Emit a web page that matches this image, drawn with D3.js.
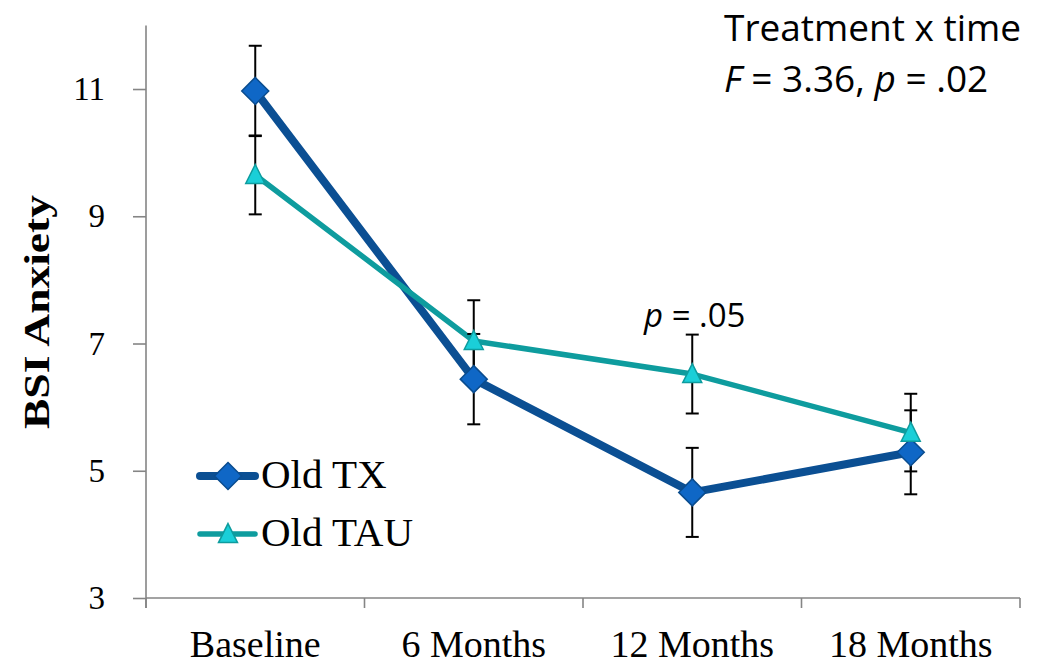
<!DOCTYPE html>
<html>
<head>
<meta charset="utf-8">
<script src="https://cdn.jsdelivr.net/npm/d3@7"></script>
<style>
  html, body { margin: 0; padding: 0; background: #fff; }
  svg { display: block; }
</style>
</head>
<body>
<svg id="chart" width="1038" height="670"></svg>
<script>
// Time points and BSI anxiety means with standard errors
const timepoints = ["Baseline", "6 Months", "12 Months", "18 Months"];
const txMeans  = [10.97, 6.44, 4.66, 5.29];
const txErrors = [0.71, 0.71, 0.70, 0.66];
const tauMeans  = [9.65, 7.04, 6.52, 5.60];
const tauErrors = [0.62, 0.64, 0.62, 0.61];
const yTicks = [3, 5, 7, 9, 11];
const seriesNames = ["Old TX", "Old TAU"];

const svg = d3.select("#chart");
const serif = "'Liberation Serif', 'DejaVu Serif', serif";
const sans = "'Open Sans', 'Liberation Sans', sans-serif";

const x = d3.scaleBand().domain(timepoints).range([146, 1020]).padding(0);
const y = d3.scaleLinear().domain([3, 12]).range([598, 25.4]);
const cx = d => x(d) + x.bandwidth() / 2;

// Y axis
const yAxis = svg.append("g").attr("transform", "translate(146,0)")
  .call(d3.axisLeft(y).tickValues(yTicks).tickSize(13).tickPadding(28).tickFormat(d3.format("d")));
yAxis.select(".domain").attr("d", `M0,${y(12)}V${y(3) + 10}`).attr("stroke", "#858585").attr("stroke-width", 1.6);
yAxis.selectAll(".tick line").attr("stroke", "#858585").attr("stroke-width", 1.6);
yAxis.selectAll(".tick text").attr("font-family", serif).attr("font-size", 33).attr("fill", "#000");

// X axis
const xAxis = svg.append("g").attr("transform", "translate(0,598)")
  .call(d3.axisBottom(x).tickSize(0));
xAxis.select(".domain").attr("d", "M146,0H1020").attr("stroke", "#858585").attr("stroke-width", 1.6);
xAxis.selectAll(".tick text")
  .attr("y", 59).attr("dy", null)
  .attr("font-family", serif).attr("font-size", 38).attr("fill", "#000");
// boundary ticks between categories
const bounds = timepoints.map(d => x(d)).concat([x.range()[1]]);
xAxis.selectAll("line.bound").data(bounds).enter().append("line")
  .attr("class", "bound")
  .attr("x1", d => d).attr("x2", d => d).attr("y1", 0).attr("y2", 10)
  .attr("stroke", "#858585").attr("stroke-width", 1.6);

// Y axis title
svg.append("text")
  .attr("transform", `translate(49,312) rotate(-90)`)
  .attr("text-anchor", "middle")
  .attr("font-family", serif).attr("font-weight", "bold").attr("font-size", 36)
  .attr("textLength", 234).attr("lengthAdjust", "spacingAndGlyphs")
  .text("BSI Anxiety");

const series = [
  { name: seriesNames[0], means: txMeans, errs: txErrors, line: "#0B4F93", width: 8, fill: "#0F67C6", stroke: "#0A4C8E", shape: "diamond" },
  { name: seriesNames[1], means: tauMeans, errs: tauErrors, line: "#0E9C9E", width: 5.5, fill: "#1ACFD8", stroke: "#0E9C9E", shape: "triangle" }
];

const line = d3.line().x(d => cx(d.t)).y(d => y(d.v));

function marker(g, shape, px, py, fill, stroke) {
  if (shape === "diamond") {
    const r = 13.5;
    g.append("path")
      .attr("d", `M${px},${py - r}L${px + r},${py}L${px},${py + r}L${px - r},${py}Z`)
      .attr("fill", fill).attr("stroke", stroke).attr("stroke-width", 1.5);
  } else {
    const h = 19, w = 19;
    g.append("path")
      .attr("d", `M${px},${py - h * 0.55}L${px + w / 2},${py + h * 0.45}L${px - w / 2},${py + h * 0.45}Z`)
      .attr("fill", fill).attr("stroke", stroke).attr("stroke-width", 1.5);
  }
}

// Lines
series.forEach(s => {
  const pts = timepoints.map((t, i) => ({ t, v: s.means[i] }));
  svg.append("path").datum(pts)
    .attr("d", line).attr("fill", "none")
    .attr("stroke", s.line).attr("stroke-width", s.width).attr("stroke-linejoin", "round");
});

// Error bars
const eg = svg.append("g");
series.forEach(s => {
  timepoints.forEach((t, i) => {
    const px = cx(t), hi = y(s.means[i] + s.errs[i]), lo = y(s.means[i] - s.errs[i]);
    eg.append("line").attr("x1", px).attr("x2", px).attr("y1", hi).attr("y2", lo)
      .attr("stroke", "#000").attr("stroke-width", 2);
    [hi, lo].forEach(yy => eg.append("line")
      .attr("x1", px - 6.5).attr("x2", px + 6.5).attr("y1", yy).attr("y2", yy)
      .attr("stroke", "#000").attr("stroke-width", 2));
  });
});

// Markers
series.forEach(s => {
  const g = svg.append("g");
  timepoints.forEach((t, i) => marker(g, s.shape, cx(t), y(s.means[i]), s.fill, s.stroke));
});

// Legend
const legendY = [476, 534];
series.forEach((s, i) => {
  const g = svg.append("g");
  g.append("line").attr("x1", 200).attr("x2", 255).attr("y1", legendY[i]).attr("y2", legendY[i])
    .attr("stroke", s.line).attr("stroke-width", s.width).attr("stroke-linecap", "round");
  marker(g, s.shape, 228, legendY[i], s.fill, s.stroke);
  g.append("text").attr("x", 261).attr("y", legendY[i] + 12)
    .attr("font-family", serif).attr("font-size", 41).attr("fill", "#000")
    .text(s.name);
});

// Interaction annotation
svg.append("text").attr("x", 724).attr("y", 41)
  .attr("font-family", sans).attr("font-size", 37).attr("fill", "#000").text("Treatment x time");
const ann2 = svg.append("text").attr("x", 724).attr("y", 92)
  .attr("font-family", sans).attr("font-size", 37).attr("fill", "#000");
ann2.append("tspan").attr("font-style", "italic").text("F");
ann2.append("tspan").text(" = 3.36, ");
ann2.append("tspan").attr("font-style", "italic").text("p");
ann2.append("tspan").text(" = .02");

// 12-month comparison note
const pnote = svg.append("text").attr("x", 644).attr("y", 327)
  .attr("font-family", sans).attr("font-size", 33).attr("fill", "#000");
pnote.append("tspan").attr("font-style", "italic").text("p");
pnote.append("tspan").text(" = .05");
</script>
</body>
</html>
